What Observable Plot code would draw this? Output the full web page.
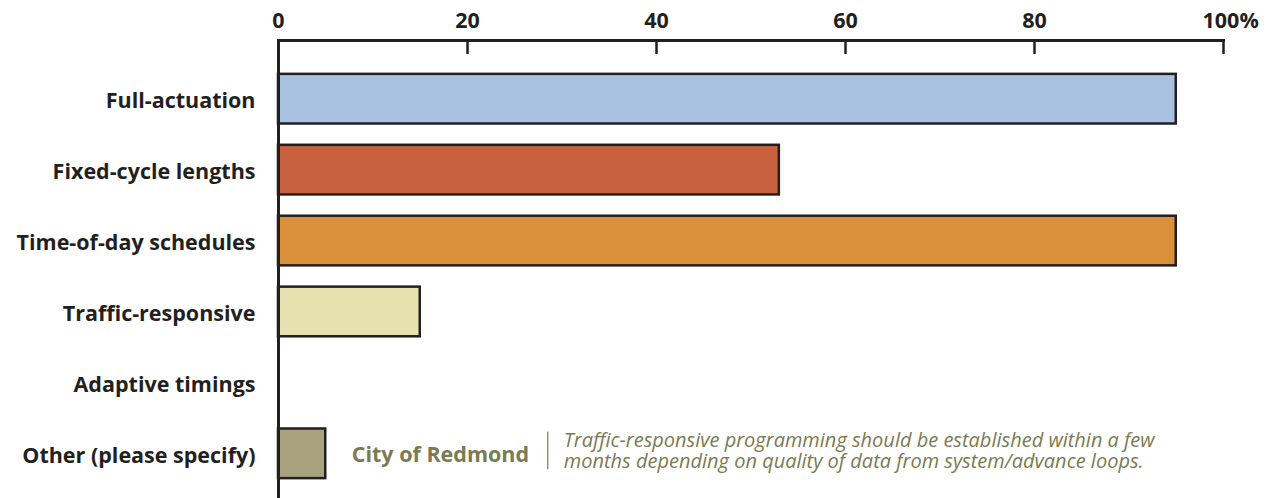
<!DOCTYPE html>
<html>
<head>
<meta charset="utf-8">
<script src="https://cdn.jsdelivr.net/npm/d3@7"></script>
<script src="https://cdn.jsdelivr.net/npm/@observablehq/plot@0.6"></script>
<style>
  html, body { margin: 0; padding: 0; background: #fff; }
  #chart svg { display: block; }
</style>
</head>
<body>
<div id="chart"></div>
<script>
const categories = ["Full-actuation", "Fixed-cycle lengths", "Time-of-day schedules", "Traffic-responsive", "Adaptive timings", "Other (please specify)"];
const values = [95, 53, 95, 15, 0, 5];
const colors = ["#a9c2e1", "#c76140", "#d99038", "#e5e2b0", "#a8a27e", "#a8a27e"];
const xTicks = [0, 20, 40, 60, 80, 100];
const noteCategory = "Other (please specify)";
const noteLabel = "City of Redmond";
const noteText = "Traffic-responsive programming should be established within a few\nmonths depending on quality of data from system/advance loops.";

const data = categories.map((c, i) => ({category: c, value: values[i], color: colors[i]}));
const noteValue = values[categories.indexOf(noteCategory)];
const note = [{category: noteCategory, value: noteValue}];

const FONT = "'Open Sans', sans-serif";
const INK = "#231f20";
const OLIVE = "#7b7a52";

const chart = Plot.plot({
  width: 1274,
  height: 498,
  marginTop: 40,
  marginBottom: 0,
  marginLeft: 278,
  marginRight: 51,
  style: {fontFamily: FONT, background: "#fff"},
  x: {domain: [0, 100], ticks: xTicks, label: null},
  y: {domain: categories, paddingInner: 0.3, paddingOuter: 0.28, insetTop: 14, round: false, label: null},
  marks: [
    Plot.barX(data.filter(d => d.value > 0), {
      x: "value", y: "category", fill: "color", stroke: INK, strokeWidth: 2.5
    }),
    Plot.axisX(xTicks.filter(t => t < 100), {anchor: "top", label: null, tickSize: 0, tickPadding: 13, fontSize: 21.5, fontWeight: "bold", fill: INK}),
    Plot.axisX([100], {anchor: "top", label: null, tickSize: 0, tickPadding: 13, fontSize: 21.5, fontWeight: "bold", fill: INK, tickFormat: d => d + "%", textAnchor: "start", dx: -21}),
    Plot.axisX(xTicks, {anchor: "top", label: null, tickSize: -13, text: null, stroke: INK, strokeWidth: 2.5}),
    Plot.frame({anchor: "top", stroke: INK, strokeWidth: 3}),
    Plot.frame({anchor: "left", stroke: INK, strokeWidth: 3}),
    Plot.axisY({label: null, tickSize: 0, tickPadding: 23, dy: 2, fontSize: 21.5, fontWeight: "bold", fill: INK}),
    Plot.text(note, {x: "value", y: "category", text: () => noteLabel, dx: 26, dy: 1, textAnchor: "start", fontSize: 21.5, fontWeight: "bold", fill: OLIVE}),
    Plot.tickX(note, {x: "value", y: "category", dx: 222, insetTop: 3, insetBottom: 9, stroke: OLIVE, strokeWidth: 1.2}),
    Plot.text(note, {x: "value", y: "category", text: () => noteText, dx: 238, dy: -3, textAnchor: "start", lineHeight: 1.04, fontSize: 20, fontStyle: "italic", fill: OLIVE})
  ]
});
document.getElementById("chart").appendChild(chart);
</script>
</body>
</html>
